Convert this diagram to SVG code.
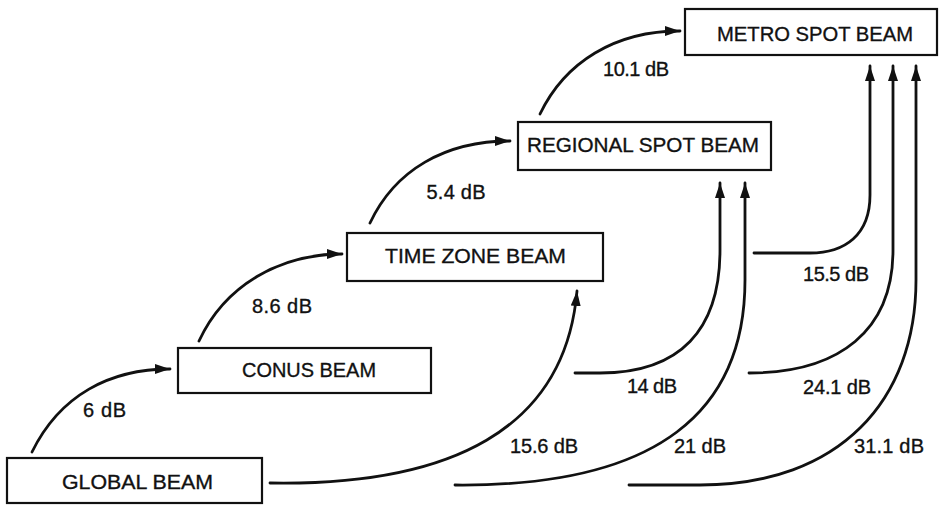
<svg xmlns="http://www.w3.org/2000/svg" width="939" height="505" viewBox="0 0 939 505">
<style>
.box{fill:#fff;stroke:#111;stroke-width:2.2}
.bt{font-family:"Liberation Sans",Arial,sans-serif;font-size:20.5px;fill:#111;stroke:#111;stroke-width:0.35;text-anchor:middle}
.lb{font-family:"Liberation Sans",Arial,sans-serif;font-size:20px;fill:#111;stroke:#111;stroke-width:0.35;text-anchor:middle}
.c{fill:none;stroke:#111;stroke-width:2.8;stroke-linecap:round}
</style>
<defs>
<marker id="ah" markerUnits="userSpaceOnUse" markerWidth="16" markerHeight="12" viewBox="0 0 16 12" refX="15" refY="6" orient="auto">
<path d="M0,1 L15,6 L0,11 Z" fill="#111"/>
</marker>
</defs>
<rect width="939" height="505" fill="#fff"/>
<g id="connectors">
<path class="c" marker-end="url(#ah)" d="M32,452 C60,395 110,369 170,369"/>
<path class="c" marker-end="url(#ah)" d="M199,341 C225,285 280,254 342,254"/>
<path class="c" marker-end="url(#ah)" d="M370,223 C395,170 445,141 510,141"/>
<path class="c" marker-end="url(#ah)" d="M540,114 C565,62 615,31 680,31"/>
<path class="c" marker-end="url(#ah)" d="M270,483 C450,486 565,430 577,291"/>
<path class="c" marker-end="url(#ah)" d="M575,373 L600,373 C680,373 720,330 720,250 L720,183"/>
<path class="c" marker-end="url(#ah)" d="M455,485 C660,487 745,410 745,280 L745,183"/>
<path class="c" marker-end="url(#ah)" d="M754,253 L810,253 C845,253 870,235 870,195 L870,66"/>
<path class="c" marker-end="url(#ah)" d="M749,373 C840,373 893,330 893,250 L893,66"/>
<path class="c" marker-end="url(#ah)" d="M629,485 L700,485 C840,485 916,400 916,280 L916,66"/>
</g>
<g id="labels">
<text class="lb" x="104.5" y="417" textLength="43" lengthAdjust="spacing">6 dB</text>
<text class="lb" x="282" y="313" textLength="60" lengthAdjust="spacing">8.6 dB</text>
<text class="lb" x="456" y="199" textLength="59" lengthAdjust="spacing">5.4 dB</text>
<text class="lb" x="636" y="76" textLength="66" lengthAdjust="spacing">10.1 dB</text>
<text class="lb" x="544" y="453" textLength="68" lengthAdjust="spacing">15.6 dB</text>
<text class="lb" x="836" y="281" textLength="66" lengthAdjust="spacing">15.5 dB</text>
<text class="lb" x="652" y="393" textLength="50" lengthAdjust="spacing">14 dB</text>
<text class="lb" x="837" y="394" textLength="68" lengthAdjust="spacing">24.1 dB</text>
<text class="lb" x="700" y="453" textLength="52" lengthAdjust="spacing">21 dB</text>
<text class="lb" x="889" y="453" textLength="70" lengthAdjust="spacing">31.1 dB</text>
</g>
<g id="global-beam">
<rect class="box" x="7" y="458" width="255" height="45"/>
<text class="bt" x="137.5" y="489" textLength="151" lengthAdjust="spacingAndGlyphs">GLOBAL BEAM</text>
</g>
<g id="conus-beam">
<rect class="box" x="178" y="348" width="253" height="45"/>
<text class="bt" x="309" y="377" textLength="134" lengthAdjust="spacingAndGlyphs">CONUS BEAM</text>
</g>
<g id="time-zone-beam">
<rect class="box" x="347" y="233" width="256" height="48"/>
<text class="bt" x="475.5" y="263" textLength="181" lengthAdjust="spacingAndGlyphs">TIME ZONE BEAM</text>
</g>
<g id="regional-spot-beam">
<rect class="box" x="518" y="122" width="253" height="48"/>
<text class="bt" x="643" y="152" textLength="232" lengthAdjust="spacingAndGlyphs">REGIONAL SPOT BEAM</text>
</g>
<g id="metro-spot-beam">
<rect class="box" x="685" y="9" width="252" height="46"/>
<text class="bt" x="815" y="41" textLength="196" lengthAdjust="spacingAndGlyphs">METRO SPOT BEAM</text>
</g>
</svg>
